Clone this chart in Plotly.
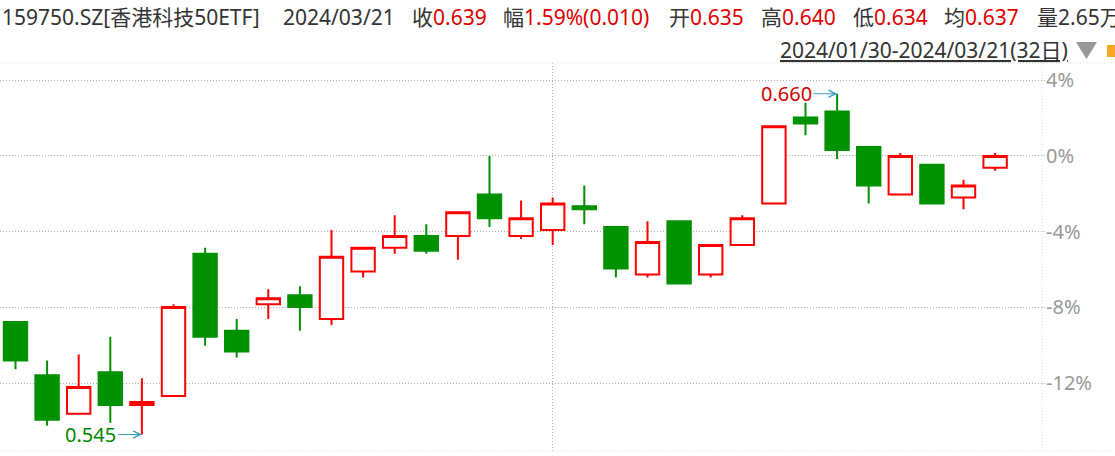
import plotly.graph_objects as go

# ---------------- data ----------------
dates = ["2024/01/30", "2024/01/31", "2024/02/01", "2024/02/02", "2024/02/05", "2024/02/06",
         "2024/02/07", "2024/02/08", "2024/02/19", "2024/02/20", "2024/02/21", "2024/02/22",
         "2024/02/23", "2024/02/26", "2024/02/27", "2024/02/28", "2024/02/29", "2024/03/01",
         "2024/03/04", "2024/03/05", "2024/03/06", "2024/03/07", "2024/03/08", "2024/03/11",
         "2024/03/12", "2024/03/13", "2024/03/14", "2024/03/15", "2024/03/18", "2024/03/19",
         "2024/03/20", "2024/03/21"]
opens = [0.583, 0.565, 0.552, 0.566, 0.555, 0.558, 0.606, 0.580, 0.589, 0.592, 0.584, 0.600,
         0.608, 0.612, 0.612, 0.626, 0.612, 0.614, 0.622, 0.615, 0.599, 0.617, 0.599, 0.609,
         0.623, 0.652, 0.654, 0.642, 0.626, 0.636, 0.625, 0.635]
highs = [0.583, 0.570, 0.572, 0.578, 0.564, 0.589, 0.608, 0.584, 0.594, 0.595, 0.614, 0.608,
         0.619, 0.616, 0.620, 0.639, 0.624, 0.625, 0.629, 0.615, 0.617, 0.617, 0.609, 0.619,
         0.649, 0.657, 0.660, 0.642, 0.640, 0.636, 0.631, 0.640]
lows = [0.567, 0.548, 0.552, 0.549, 0.545, 0.558, 0.575, 0.571, 0.584, 0.580, 0.582, 0.598,
        0.606, 0.606, 0.604, 0.615, 0.611, 0.609, 0.616, 0.598, 0.598, 0.596, 0.598, 0.609,
        0.623, 0.646, 0.638, 0.623, 0.626, 0.623, 0.621, 0.634]
closes = [0.570, 0.550, 0.561, 0.555, 0.556, 0.588, 0.578, 0.573, 0.591, 0.588, 0.605, 0.608,
          0.612, 0.607, 0.620, 0.618, 0.618, 0.623, 0.621, 0.601, 0.610, 0.596, 0.609, 0.618,
          0.649, 0.650, 0.641, 0.629, 0.639, 0.623, 0.629, 0.639]

security_name = "159750.SZ[香港科技50ETF]"
avg_price = 0.637
volume_text = "2.65万"
pct_base = 0.639
pct_ticks = [4, 0, -4, -8, -12]
pct_labels = ["4%", "0%", "-4%", "-8%", "-12%"]
pct_range = [-15.58, 4.91]
month_start = "2024/03/01"

# ---------------- style ----------------
RED = "#ff0000"
GREEN = "#009100"
VAL_RED = "#e00000"
TXT = "#333333"
GRID = "#aaaaaa"
FONT = "Noto Sans, Noto Sans CJK SC, sans-serif"

W_PLOT = 1042.0
TOP, BOTTOM = 63.0, 451.0


def px_x(px):
    return px / W_PLOT


def px_y(py):
    return (BOTTOM - py) / (BOTTOM - TOP)


fig = go.Figure(go.Candlestick(
    x=dates, open=opens, high=highs, low=lows, close=closes,
    increasing=dict(line=dict(color=RED, width=2), fillcolor="white"),
    decreasing=dict(line=dict(color=GREEN, width=2), fillcolor=GREEN),
    whiskerwidth=0,
))

fig.update_layout(
    width=1115, height=456,
    margin=dict(l=0, r=73, t=63, b=5),
    paper_bgcolor="white", plot_bgcolor="white",
    showlegend=False,
    boxgap=0.26, boxgroupgap=0,
    font=dict(family=FONT, size=18, color=TXT),
    xaxis=dict(type="category", range=[-0.4905, 32.484],
               rangeslider=dict(visible=False),
               showticklabels=False, ticks="",
               tickvals=[month_start],
               showgrid=True, gridcolor=GRID, gridwidth=1, griddash="1px,2px",
               zeroline=False, showline=False, fixedrange=True),
    yaxis=dict(side="right",
               range=[pct_base * (1 + pct_range[0] / 100), pct_base * (1 + pct_range[1] / 100)],
               tickvals=[pct_base * (1 + p / 100) for p in pct_ticks],
               ticktext=pct_labels,
               showgrid=True, gridcolor=GRID, gridwidth=1, griddash="1px,2px",
               zeroline=False, showline=False,
               ticks="outside", ticklen=2, tickcolor="#cccccc",
               ticklabelstandoff=-3,
               tickfont=dict(size=20, color="#999999", family=FONT)),
)

# frame lines
fig.add_shape(type="line", xref="paper", yref="paper", x0=0, x1=1115 / W_PLOT, y0=1, y1=1,
              line=dict(color="#dddddd", width=1, dash="1px,2px"))
fig.add_shape(type="line", xref="paper", yref="paper", x0=0, x1=1115 / W_PLOT, y0=0, y1=0,
              line=dict(color="#dddddd", width=1, dash="1px,2px"))
fig.add_shape(type="line", xref="paper", yref="paper", x0=1, x1=1, y0=0, y1=1,
              line=dict(color="#dddddd", width=1, dash="1px,2px"))
# small orange marker at the top right
fig.add_shape(type="rect", xref="paper", yref="paper",
              x0=px_x(1107), x1=px_x(1118), y0=px_y(57), y1=px_y(45),
              line=dict(width=0), fillcolor="#f5a623")
# grey drop-down triangle
fig.add_shape(type="path", xref="paper", yref="paper",
              path=(f"M {px_x(1076)} {px_y(42)} L {px_x(1097)} {px_y(42)} "
                    f"L {px_x(1086.5)} {px_y(59)} Z"),
              line=dict(width=0), fillcolor="#999999")

# header
close = closes[-1]
prev = closes[-2]
chg = close - prev
pct = chg / prev * 100


def header(px, py, text, color=TXT, size=21):
    fig.add_annotation(xref="paper", yref="paper", x=px_x(px), y=px_y(py),
                       xanchor="left", yanchor="middle", showarrow=False,
                       text=text, font=dict(color=color, size=size, family=FONT))


def kv(label, value):
    return f"{label}<span style='color:{VAL_RED}'>{value}</span>"


row1 = 17
header(0, row1, security_name)
header(281, row1, dates[-1])
header(410, row1, kv("收", f"{close:.3f}"))
header(501, row1, kv("幅", f"{pct:.2f}%({chg:.3f})"))
header(667, row1, kv("开", f"{opens[-1]:.3f}"))
header(759, row1, kv("高", f"{highs[-1]:.3f}"))
header(851, row1, kv("低", f"{lows[-1]:.3f}"))
header(942, row1, kv("均", f"{avg_price:.3f}"))
header(1035, row1, "量" + volume_text)
header(778, 50, f"<u>{dates[0]}-{dates[-1]}({len(dates)}日)</u>")

# extremes
imax = highs.index(max(highs))
imin = lows.index(min(lows))
fig.add_annotation(x=dates[imax], y=highs[imax], text=f"{highs[imax]:.3f}",
                   showarrow=True, arrowhead=5, arrowsize=1.4, arrowwidth=1,
                   arrowcolor="#3a9bbf", ax=-51, ay=0,
                   font=dict(color="#d40000", size=20, family=FONT))
fig.add_annotation(x=dates[imin], y=lows[imin], text=f"{lows[imin]:.3f}",
                   showarrow=True, arrowhead=5, arrowsize=1.4, arrowwidth=1,
                   arrowcolor="#3a9bbf", ax=-51, ay=0,
                   font=dict(color="#008800", size=20, family=FONT))

fig.write_html("out.html",
               config={"displayModeBar": False},
               post_script="document.body.style.margin='0';document.body.style.overflow='hidden';")
